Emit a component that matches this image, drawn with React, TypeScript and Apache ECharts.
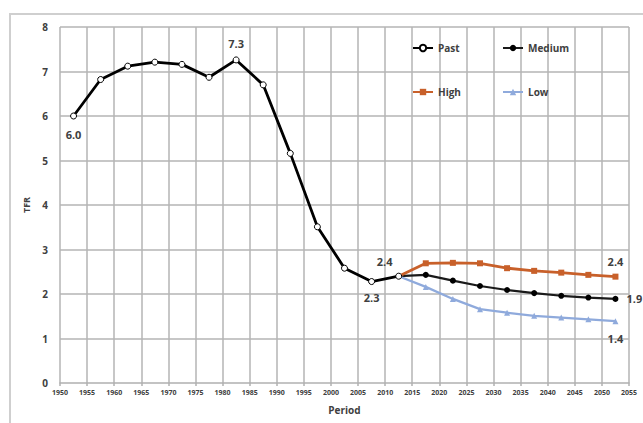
import React, { useEffect, useRef } from "react";
import * as echarts from "echarts";

const pastYears = [1952.5, 1957.5, 1962.5, 1967.5, 1972.5, 1977.5, 1982.5, 1987.5, 1992.5, 1997.5, 2002.5, 2007.5, 2012.5];
const pastTFR = [6.0, 6.82, 7.12, 7.21, 7.16, 6.87, 7.26, 6.7, 5.16, 3.51, 2.58, 2.28, 2.4];

const projYears = [2012.5, 2017.5, 2022.5, 2027.5, 2032.5, 2037.5, 2042.5, 2047.5, 2052.5];
const mediumTFR = [2.4, 2.43, 2.3, 2.18, 2.09, 2.02, 1.96, 1.92, 1.89];
const highTFR = [2.4, 2.69, 2.7, 2.69, 2.58, 2.52, 2.48, 2.43, 2.39];
const lowTFR = [2.4, 2.16, 1.89, 1.66, 1.58, 1.51, 1.47, 1.43, 1.39];

const xTicks = [1950, 1955, 1960, 1965, 1970, 1975, 1980, 1985, 1990, 1995, 2000, 2005, 2010, 2015, 2020, 2025, 2030, 2035, 2040, 2045, 2050, 2055];
const yTicks = [1, 2, 3, 4, 5, 6, 7, 8];

const seriesNames = ["Past", "Medium", "High", "Low"];

const labelStyle = { fontSize: 11, fontWeight: "bold" as const, color: "#404040", fontFamily: "Open Sans, Noto Sans, sans-serif" };

function build(years: number[], vals: number[], labels: Record<number, any>, hideFirst = false) {
  return years.map((y, i) => {
    const item: any = { value: [y, vals[i]] };
    if (labels[i]) {
      item.label = { show: true, formatter: vals[i].toFixed(1), ...labelStyle, ...labels[i] };
    }
    if (hideFirst && i === 0) item.symbol = "none";
    return item;
  });
}

export default function App() {
  const ref = useRef<HTMLDivElement>(null);
  useEffect(() => {
    if (!ref.current) return;
    const chart = echarts.init(ref.current, null, { renderer: "svg" });
    const legendText = { fontSize: 10, fontWeight: "bold" as const, color: "#404040", fontFamily: "Open Sans, Noto Sans, sans-serif" };
    const legendPos = [
      { left: 412, top: 43 },
      { left: 502, top: 43 },
      { left: 412, top: 87 },
      { left: 502, top: 87 },
    ];
    const gridLines = [
      ...xTicks.map((x) => ({ xAxis: x })),
      ...yTicks.map((y) => ({ yAxis: y })),
    ];
    chart.setOption({
      animation: false,
      backgroundColor: "transparent",
      legend: seriesNames.map((n, i) => ({
        data: [n],
        left: legendPos[i].left,
        top: legendPos[i].top,
        itemWidth: 20,
        itemHeight: 8,
        itemGap: 4,
        padding: 0,
        textStyle: legendText,
      })),
      grid: { left: 60, right: 14, top: 27, bottom: 40 },
      xAxis: {
        type: "value",
        min: 1950,
        max: 2055,
        interval: 5,
        name: "Period",
        nameLocation: "middle",
        nameGap: 22,
        nameTextStyle: { fontSize: 10, fontWeight: "bold", color: "#404040", fontFamily: "Open Sans, Noto Sans, sans-serif" },
        axisLine: { show: true, lineStyle: { color: "#b0b0b0", width: 1.5 } },
        axisTick: { show: true, length: 3, lineStyle: { color: "#b0b0b0", width: 1.5 } },
        axisLabel: { fontSize: 7, fontWeight: "bold", color: "#404040", margin: 6, fontFamily: "Liberation Sans Narrow, Open Sans, sans-serif", formatter: (v: number) => String(v) },
        splitLine: { show: false },
      },
      yAxis: {
        type: "value",
        min: 0,
        max: 8,
        interval: 1,
        name: "TFR",
        nameLocation: "middle",
        nameGap: 28,
        nameTextStyle: { fontSize: 9, fontWeight: "bold", color: "#404040", fontFamily: "Open Sans, Noto Sans, sans-serif" },
        axisLine: { show: false },
        axisTick: { show: false },
        axisLabel: { fontSize: 10, fontWeight: "bold", color: "#404040", margin: 12, fontFamily: "Open Sans, Noto Sans, sans-serif" },
        splitLine: { show: false },
      },
      series: [
        {
          name: "gridlines",
          type: "line",
          z: 0,
          silent: true,
          data: [],
          markLine: {
            z: 0,
            silent: true,
            animation: false,
            symbol: ["none", "none"],
            label: { show: false },
            lineStyle: { color: "#b4b4b4", width: 1.5, type: "solid", opacity: 1 },
            emphasis: { disabled: true },
            data: gridLines,
          },
        },
        {
          name: "Past",
          type: "line",
          z: 5,
          symbol: "circle",
          symbolSize: 6,
          itemStyle: { color: "#ffffff", borderColor: "#000000", borderWidth: 1 },
          lineStyle: { color: "#000000", width: 2.8 },
          data: build(pastYears, pastTFR, {
            0: { position: "bottom", distance: 9 },
            6: { position: "top", distance: 7 },
            11: { position: "bottom", distance: 7 },
            12: { position: "top", distance: 6, offset: [-14, 0] },
          }),
        },
        {
          name: "Medium",
          type: "line",
          z: 3,
          symbol: "circle",
          symbolSize: 6,
          itemStyle: { color: "#000000" },
          lineStyle: { color: "#1a1a1a", width: 2.2 },
          data: build(projYears, mediumTFR, { 8: { position: "right", distance: 8 } }, true),
        },
        {
          name: "High",
          type: "line",
          z: 3,
          symbol: "rect",
          symbolSize: 6,
          itemStyle: { color: "#c8602a" },
          lineStyle: { color: "#c8602a", width: 2.8 },
          data: build(projYears, highTFR, { 8: { position: "top", distance: 7 } }, true),
        },
        {
          name: "Low",
          type: "line",
          z: 3,
          symbol: "triangle",
          symbolSize: 6,
          itemStyle: { color: "#8faadc" },
          lineStyle: { color: "#8faadc", width: 2.2 },
          data: build(projYears, lowTFR, { 8: { position: "bottom", distance: 9 } }, true),
        },
      ],
    });
    return () => chart.dispose();
  }, []);
  return (
    <div style={{ position: "fixed", left: 0, top: 0, width: 643, height: 423, background: "#ffffff" }}>
      <div style={{ position: "absolute", left: 9, top: 13, width: 660, height: 440, borderLeft: "2px solid #cfcfcf", borderTop: "2px solid #cfcfcf", boxSizing: "border-box" }} />
      <div ref={ref} style={{ position: "absolute", left: 0, top: 0, width: 643, height: 423 }} />
    </div>
  );
}
